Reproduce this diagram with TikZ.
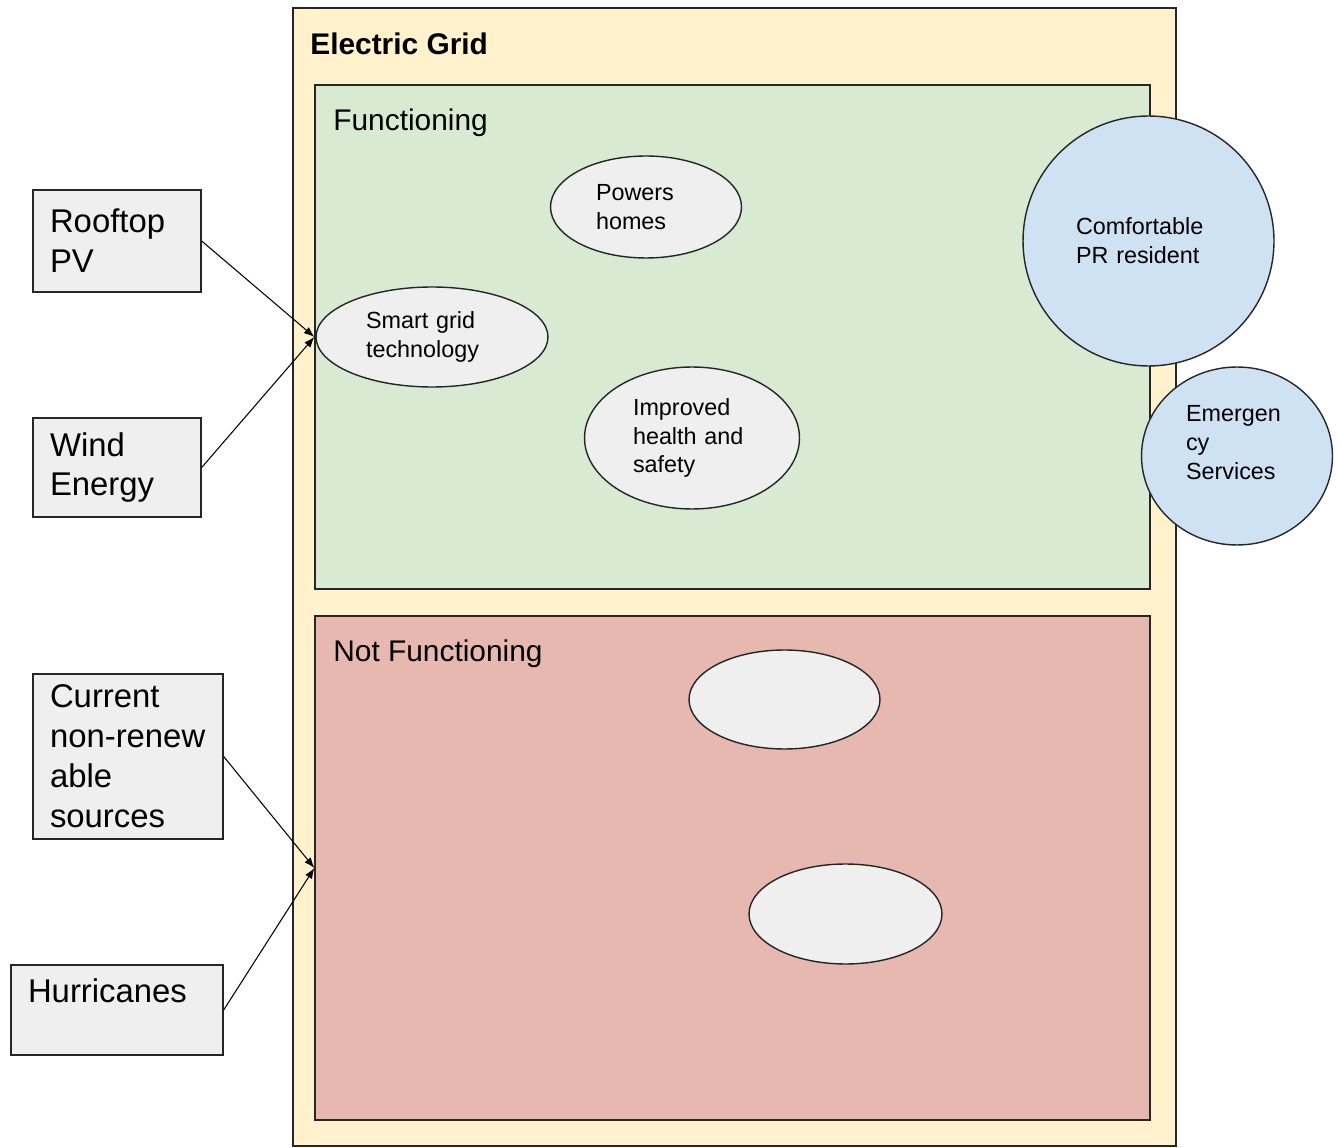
\documentclass[tikz,border=0pt]{standalone}
\usepackage{fontspec}
\setmainfont{Liberation Sans}
\usetikzlibrary{arrows.meta,shapes.geometric}
\definecolor{gridfill}{HTML}{FFF2CC}
\definecolor{funcfill}{HTML}{D9EAD3}
\definecolor{deadfill}{HTML}{E6B8AF}
\definecolor{boxgray}{HTML}{EFEFEF}
\definecolor{circblue}{HTML}{CFE2F3}
\begin{document}
\begin{tikzpicture}[x=0.02cm,y=-0.02cm,>={Latex[length=6pt,width=4.5pt]},
 area/.style={draw=black!85,line width=0.8pt,inner sep=0pt},
 title/.style={anchor=base west,inner sep=0pt,font=\fontsize{17}{20}\selectfont},
 src/.style={draw=black!85,line width=0.8pt,fill=boxgray,inner xsep=0.34cm,inner ysep=0pt,align=left,font=\fontsize{18.7}{22.7}\selectfont},
 idea/.style={ellipse,draw=black!85,line width=0.8pt,fill=boxgray,inner sep=0pt,align=left,font=\fontsize{13.3}{16.4}\selectfont},
 who/.style={idea,fill=circblue}]
\useasboundingbox (0,0) rectangle (1339,1148);
\node[area,fill=gridfill,minimum width=17.66cm,minimum height=22.76cm] (grid) at (734.5,577) {};
\node[title,font=\fontsize{17}{20}\selectfont\bfseries] (gridlbl) at (310,55) {Electric Grid};
\node[area,fill=funcfill,minimum width=16.7cm,minimum height=10.08cm] (func) at (732.5,337) {};
\node[title] (funclbl) at (333,131) {Functioning};
\node[area,fill=deadfill,minimum width=16.7cm,minimum height=10.08cm] (notfunc) at (732.5,868) {};
\node[title] (notfunclbl) at (333,662) {Not Functioning};
\node[idea,text width=2cm,minimum width=3.82cm,minimum height=2.04cm] (homes) at (646,207) {Powers\\homes};
\node[idea,text width=2.64cm,minimum width=4.64cm,minimum height=2cm] (smart) at (432,337) {Smart grid\\technology};
\node[idea,text width=2.36cm,minimum width=4.3cm,minimum height=2.84cm] (health) at (692,438) {Improved\\health and\\safety};
\node[idea,minimum width=3.82cm,minimum height=1.98cm] (blanka) at (784.5,699.5) {};
\node[idea,minimum width=3.86cm,minimum height=2cm] (blankb) at (845.5,914) {};
\node[who,text width=2.9cm,minimum width=5.02cm,minimum height=5cm] (resident) at (1148.5,241) {Comfortable\\PR resident};
\node[who,text width=2.04cm,minimum width=3.82cm,minimum height=3.56cm,text depth=1.7cm] (emerg) at (1237,456) {Emergen\\cy\\Services};
\node[src,text width=2.68cm,minimum height=2.04cm] (roof) at (117,241) {Rooftop\\PV};
\node[src,text width=2.68cm,minimum height=1.98cm] (wind) at (117,467.5) {Wind\\Energy};
\node[src,text width=3.12cm,minimum height=3.3cm] (cur) at (128,756.5) {Current\\\mbox{non-renew}\\able\\sources};
\node[src,text width=3.56cm,minimum height=1.8cm,text depth=0.79cm] (hurr) at (117,1010) {Hurricanes};
\foreach \s/\t in {roof/func,wind/func,cur/notfunc,hurr/notfunc}{\draw[->,line width=0.6pt] (\s.east)--(\t.west);}
\end{tikzpicture}
\end{document}
